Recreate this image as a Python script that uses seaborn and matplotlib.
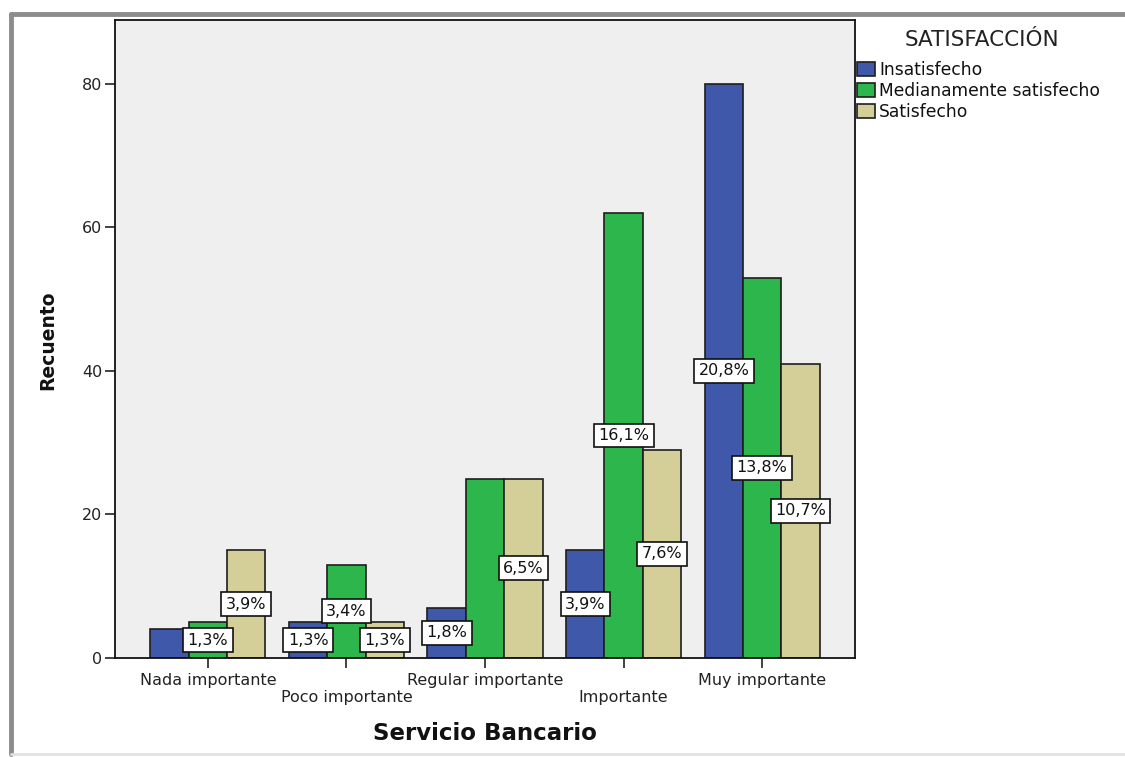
import numpy as np
import pandas as pd
import matplotlib
matplotlib.use("Agg")
import matplotlib.pyplot as plt
import seaborn as sns
from matplotlib.lines import Line2D
from matplotlib.patches import Patch

categorias = ["Nada importante", "Poco importante", "Regular importante",
              "Importante", "Muy importante"]
niveles = ["Insatisfecho", "Medianamente satisfecho", "Satisfecho"]
insatisfecho = [4, 5, 7, 15, 80]
medianamente = [5, 13, 25, 62, 53]
satisfecho = [15, 5, 25, 29, 41]
# which bars carry a percentage label (overlapping ones are dropped)
mostrar_insatisfecho = [False, True, True, True, True]
mostrar_medianamente = [True, True, False, True, True]
mostrar_satisfecho = [True, True, True, True, True]
colores = ["#3F58AA", "#2DB64B", "#D4CE98"]
ticks_y = [0, 20, 40, 60, 80]

sns.set_theme(style="white")
plt.rcParams["font.family"] = ["DejaVu Sans"]

df = pd.DataFrame({
    "Servicio": categorias * 3,
    "Satisfacción": [n for n in niveles for _ in categorias],
    "Recuento": insatisfecho + medianamente + satisfecho,
})
mostrar = [mostrar_insatisfecho, mostrar_medianamente, mostrar_satisfecho]
total = df["Recuento"].sum()

W, H = 1125, 757
fig = plt.figure(figsize=(W / 100, H / 100), dpi=100)
fig.patch.set_facecolor("white")
ax = fig.add_axes([115 / W, 1 - 658 / H, 740 / W, 638 / H])
ax.set_facecolor("#EFEFEF")

sns.barplot(data=df, x="Servicio", y="Recuento", hue="Satisfacción",
            order=categorias, hue_order=niveles, palette=colores,
            width=0.83, gap=0, saturation=1, errorbar=None,
            edgecolor="#1e1e1e", linewidth=1.2, legend=False, ax=ax)

# percentage labels centred at half height of each bar
for cont, flags in zip(ax.containers, mostrar):
    for bar, show in zip(cont, flags):
        if not show:
            continue
        h = bar.get_height()
        xc = bar.get_x() + bar.get_width() / 2
        txt = f"{100 * h / total:.1f}%".replace(".", ",")
        ax.text(xc, h / 2, txt, ha="center", va="center", fontsize=11.5,
                color="#111111", zorder=10,
                bbox=dict(boxstyle="square,pad=0.28", fc="white",
                          ec="#111111", lw=1.2))

ax.set_xlim(-0.67, 4.67)
ax.set_ylim(0, 88.9)
ax.set_yticks(ticks_y)
ax.set_yticklabels([str(t) for t in ticks_y], fontsize=11.5, color="#222222")
ax.set_xticks(range(len(categorias)))
ax.set_xticklabels(categorias, fontsize=11.5, color="#222222")
ax.tick_params(axis="both", direction="out", length=7, width=1.2,
               color="#222222", bottom=True, left=True)
ax.tick_params(axis="x", pad=4)
ax.tick_params(axis="y", pad=2)

# staggered category labels: every second tick is longer
for i, t in enumerate(ax.xaxis.get_major_ticks()):
    if i % 2 == 1:
        t.tick1line.set_markersize(21)
        t.set_pad(4 + 12)

for s in ax.spines.values():
    s.set_visible(True)
    s.set_color("#111111")
    s.set_linewidth(1.3)

ax.set_xlabel("Servicio Bancario", fontsize=16.5, fontweight="bold",
              color="#111111")
ax.set_ylabel("Recuento", fontsize=13.5, fontweight="bold",
              color="#111111")
ax.xaxis.set_label_coords(0.5, -(722 - 658) / 638)
ax.yaxis.set_label_coords(-(115 - 57) / 740, (658 - 340) / 638)

# legend outside the plotting area
fig.text(982 / W, 1 - 40 / H, "SATISFACCIÓN", ha="center", va="center",
         fontsize=15.5, color="#222222")
handles = [Patch(facecolor=c, edgecolor="#1e1e1e", linewidth=1.2)
           for c in colores]
fig.legend(handles, niveles, loc="upper left",
           bbox_to_anchor=(857 / W, 1 - 61 / H), frameon=False,
           fontsize=12.3, handlelength=1.05, handleheight=0.9,
           handletextpad=0.25, labelspacing=0.18, borderpad=0,
           borderaxespad=0, labelcolor="#111111")

# window frame around the chart
fig.add_artist(Line2D([11 / W, 11 / W], [1 - 754 / H, 1 - 14 / H],
                      transform=fig.transFigure, color="#8c8c8c", lw=3.5))
fig.add_artist(Line2D([11 / W, 1.0], [1 - 14 / H, 1 - 14 / H],
                      transform=fig.transFigure, color="#8c8c8c", lw=3.5))
fig.add_artist(Line2D([11 / W, 1.0], [1 - 754 / H, 1 - 754 / H],
                      transform=fig.transFigure, color="#e2e2e2", lw=2))

fig.savefig("out.png", dpi=100, facecolor="white")
